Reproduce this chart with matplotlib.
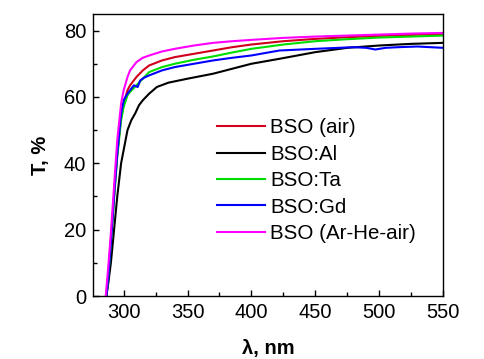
import matplotlib

matplotlib.use("Agg")
import matplotlib.pyplot as plt
from matplotlib.ticker import MultipleLocator

plt.rcParams["font.family"] = ["Liberation Sans", "DejaVu Sans"]

# wavelength (nm) / transmittance (%)
wl_air = [286.5, 288, 290, 293, 295, 298, 300, 303, 305, 310, 315, 320, 330, 340, 355, 370, 385, 400, 425, 450, 475, 500, 525, 550]
t_air = [0, 7, 17, 33, 43, 54, 58, 62, 63.5, 66, 68, 69.5, 71, 72, 73, 74, 75, 75.8, 76.8, 77.5, 78, 78.4, 78.7, 79]

wl_al = [286.5, 288, 290, 293, 295, 298, 300, 303, 306, 309, 312, 315, 320, 326, 335, 350, 370, 385, 400, 422, 450, 475, 500, 525, 550]
t_al = [0, 4, 10, 22, 30, 40, 44, 50, 53, 55, 57.5, 59, 61, 63, 64.3, 65.5, 67, 68.5, 70, 71.5, 73.5, 74.8, 75.5, 76, 76.3]

wl_ta = [286.5, 288, 290, 293, 295, 298, 300, 303, 305, 310, 315, 320, 330, 340, 355, 370, 385, 400, 425, 450, 475, 500, 525, 550]
t_ta = [0, 6, 16, 32, 42, 53, 57, 60.5, 61.5, 63.5, 65.5, 67.5, 69, 70, 71.2, 72.2, 73.4, 74.5, 75.8, 76.8, 77.4, 77.9, 78.2, 78.5]

wl_gd = [286.5, 288, 290, 293, 295, 298, 300, 303, 305, 308, 311, 313, 316, 320, 330, 340, 355, 370, 385, 400, 422, 450, 480, 490, 497, 505, 515, 530, 550]
t_gd = [0, 6, 16, 33, 43, 55, 59, 61, 62, 63.5, 63, 65, 65.8, 66.5, 68, 69, 70, 71, 71.8, 72.5, 74, 74.5, 75, 74.8, 74.3, 74.8, 75, 75.2, 74.8]

wl_arhe = [286, 288, 290, 293, 295, 298, 300, 303, 305, 310, 315, 320, 330, 340, 355, 370, 385, 400, 425, 450, 475, 500, 525, 550]
t_arhe = [0, 9, 19, 36, 47, 58, 62, 66, 68, 70.5, 71.8, 72.5, 73.7, 74.5, 75.5, 76.3, 76.8, 77.2, 77.8, 78.2, 78.5, 78.8, 79.1, 79.3]

series = [
    ("BSO (air)", wl_air, t_air, "#d0001c"),
    ("BSO:Al", wl_al, t_al, "black"),
    ("BSO:Ta", wl_ta, t_ta, "#00dd00"),
    ("BSO:Gd", wl_gd, t_gd, "#0000ff"),
    ("BSO (Ar-He-air)", wl_arhe, t_arhe, "#ff00ff"),
]

fig = plt.figure(figsize=(4.84, 3.59), dpi=100)
ax = fig.add_axes([93 / 484, 1 - 296 / 359, 350 / 484, 282 / 359])

for label, x, y, c in series:
    ax.plot(x, y, color=c, lw=1.5, label=label)

ax.set_xlim(276, 550)
ax.set_ylim(0, 85)
ax.xaxis.set_major_locator(MultipleLocator(50))
ax.xaxis.set_minor_locator(MultipleLocator(25))
ax.yaxis.set_major_locator(MultipleLocator(20))
ax.yaxis.set_minor_locator(MultipleLocator(10))
ax.tick_params(which="both", direction="in", labelsize=14.5, top=False, right=False)
ax.tick_params(which="major", length=4, width=1, pad=5)
ax.tick_params(which="minor", length=3, width=1)
for s in ax.spines.values():
    s.set_linewidth(1)

ax.set_xlabel("λ, nm", fontsize=14.5, fontweight="bold", labelpad=12)
ax.set_ylabel("T, %", fontsize=14.5, fontweight="bold", labelpad=10)

ax.legend(loc="upper left", bbox_to_anchor=(0.354, 0.63), frameon=False,
          fontsize=14.8, handlelength=2.33, handletextpad=0.25, labelspacing=0.36,
          borderpad=0, borderaxespad=0)

fig.savefig("out.png", dpi=100)
